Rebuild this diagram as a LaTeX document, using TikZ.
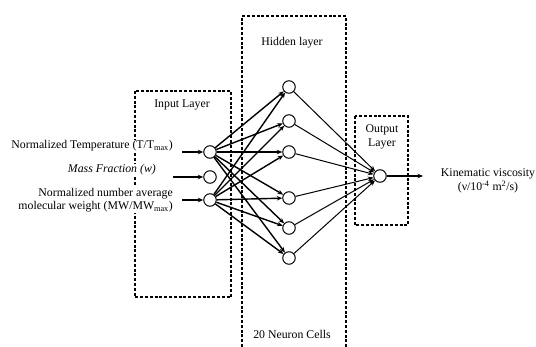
\documentclass[tikz,border=0pt]{standalone}
\usepackage{fontspec}
\setmainfont{Liberation Serif}
\usetikzlibrary{arrows.meta,positioning}

\begin{document}
\begin{tikzpicture}[
  x=1pt, y=-1pt,
  >={Stealth[length=5.5pt,width=4.5pt]},
  every node/.style={font=\fontsize{11.8}{13.5}\selectfont},
  neuron/.style={draw, circle, minimum size=12.5pt, inner sep=0pt, fill=white, line width=1pt},
  layerbox/.style={draw, line width=1.3pt, dash pattern=on 3pt off 1.8pt},
  feed/.style={->, line width=1.4pt},
  link/.style={->, line width=1pt},
  lbl/.style={fill=white, inner sep=1pt, align=right},
]
\useasboundingbox (0,0) rectangle (536,347);

% layer frames
\draw[layerbox] (135,91) rectangle (231,297);
\draw[layerbox] (242,347) -- (242,16) -- (346,16) -- (346,347);
\draw[layerbox] (355,116) rectangle (408,225);

\node (inlayer) at (182,105) {Input Layer};
\node (hidlayer) at (292,43) {Hidden layer};
\node (cells) at (292,334) {20 Neuron Cells};
\node[align=center] (outlayer) at (382,137) {Output\\Layer};

% neurons
\node[neuron] (in1) at (210,152) {};
\node[neuron] (in2) at (210,177) {};
\node[neuron] (in3) at (210,200) {};
\foreach \i/\y in {1/87,2/121,3/152,4/198,5/228,6/258}
  \node[neuron] (hid\i) at (289,\y) {};
\node[neuron] (out) at (380,176) {};

% input labels
\node[lbl, anchor=east] (temp) at (174,146) {Normalized Temperature (T/T\textsubscript{max})};
\node[lbl, anchor=east] (mass) at (157,170) {\itshape Mass Fraction (w)};
\node[lbl, anchor=east] (mw) at (174,200) {Normalized number average\\molecular weight (MW/MW\textsubscript{max})};
\coordinate (srcT) at (182,152);
\coordinate (srcW) at (173,177);
\coordinate (srcM) at (182,200);
\draw[feed] (srcT) -- (in1);
\draw[feed] (srcW) -- (in2);
\draw[feed] (srcM) -- (in3);

% weights
\foreach \s in {in1,in3}
  \foreach \h in {1,...,6}
    \draw[feed] (\s) -- (hid\h);
\foreach \h in {1,...,6}
  \draw[link] (hid\h) -- (out);

% output
\coordinate (yield) at (423,176);
\draw[feed] (out) -- (yield);
\node[align=center] (visc) at (488,181) {Kinematic viscosity\\(ν/10\textsuperscript{-4} m\textsuperscript{2}/s)};
\end{tikzpicture}
\end{document}
